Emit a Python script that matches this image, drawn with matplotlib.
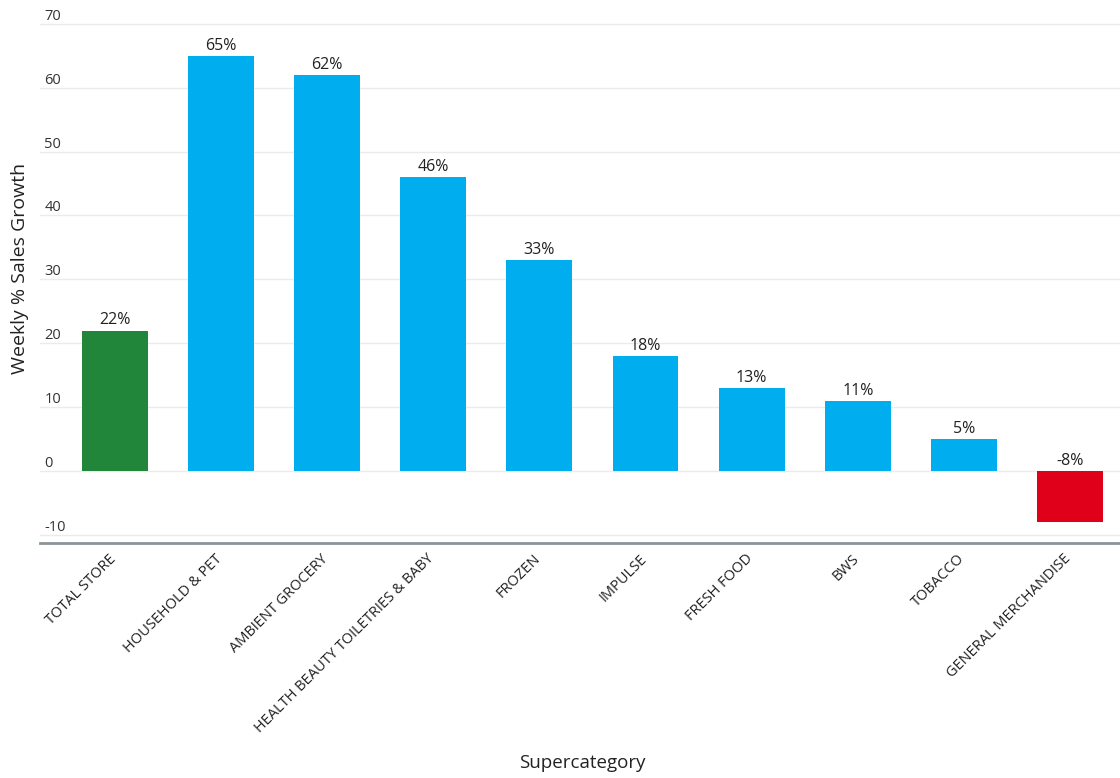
import matplotlib.pyplot as plt
import numpy as np

plt.rcParams['font.family'] = ['Open Sans', 'DejaVu Sans']

# Data
categories = ['TOTAL STORE', 'HOUSEHOLD & PET', 'AMBIENT GROCERY',
              'HEALTH BEAUTY TOILETRIES & BABY', 'FROZEN', 'IMPULSE',
              'FRESH FOOD', 'BWS', 'TOBACCO', 'GENERAL MERCHANDISE']
growth = [22, 65, 62, 46, 33, 18, 13, 11, 5, -8]
y_ticks = [-10, 0, 10, 20, 30, 40, 50, 60, 70]

C_TOTAL = '#22863A'
C_POS = '#00AEEF'
C_NEG = '#E0001A'

colors = []
for i, v in enumerate(growth):
    if i == 0:
        colors.append(C_TOTAL)
    elif v < 0:
        colors.append(C_NEG)
    else:
        colors.append(C_POS)

fig = plt.figure(figsize=(11.2, 7.78), dpi=100)
ax = fig.add_axes([0.036, 0.302, 0.964, 0.670])

x = np.arange(len(categories))
ax.bar(x, growth, width=0.62, color=colors, zorder=3)

for xi, v in zip(x, growth):
    ax.annotate(f'{v}%', xy=(xi, max(v, 0)), xytext=(0, 1.5),
                textcoords='offset points', ha='center', va='bottom',
                fontsize=11.5, color='#222222')

ax.set_xlim(-0.70, 9.47)
ax.set_ylim(-11.25, 70.3)

# Grid & spines
ax.set_yticks(y_ticks)
ax.set_yticklabels([str(t) for t in y_ticks], fontsize=10.5, color='#333333')
for lbl in ax.get_yticklabels():
    lbl.set_ha('left')
    lbl.set_va('bottom')
ax.tick_params(axis='y', length=0, pad=-3)
ax.grid(True, axis='y', color='#EBEBEB', linewidth=1, zorder=0)
for s in ['top', 'right', 'left']:
    ax.spines[s].set_visible(False)
ax.spines['bottom'].set_color('#8A9599')
ax.spines['bottom'].set_linewidth(2)

ax.set_xticks(x - 0.06)
ax.set_xticklabels(categories, rotation=45, ha='right', rotation_mode='anchor',
                   fontsize=10.5, color='#222222')
ax.tick_params(axis='x', length=0, pad=6)

fig.text(0.018, 0.655, 'Weekly % Sales Growth', rotation=90, ha='center',
         va='center', fontsize=14, color='#222222')
fig.text(0.52, 0.019, 'Supercategory', ha='center', va='center',
         fontsize=13.5, color='#222222')

fig.savefig('out.png', dpi=100, facecolor='white')
